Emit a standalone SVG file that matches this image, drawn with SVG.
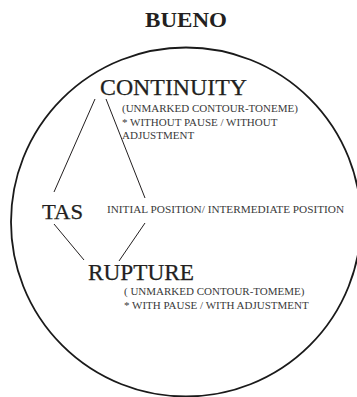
<svg xmlns="http://www.w3.org/2000/svg" width="357" height="397" viewBox="0 0 357 397">
  <style>
    text { font-family: "Liberation Serif", "DejaVu Serif", "Times New Roman", serif; }
    .title { font-weight: bold; font-size: 21px; fill: #231f20; }
    .big { fill: #231f20; stroke: #231f20; stroke-width: 0.25; }
    .small { font-size: 11px; fill: #3a3a3a; }
    .edge { stroke: #231f20; stroke-width: 1; fill: none; }
    .frame { stroke: #1a1a1a; stroke-width: 1.8; fill: none; }
  </style>

  <rect width="357" height="397" fill="#ffffff"/>

  <!-- heading -->
  <g id="title">
    <text class="title" x="145" y="27" textLength="82" lengthAdjust="spacingAndGlyphs">BUENO</text>
  </g>

  <!-- enclosing circle -->
  <g id="frame">
    <ellipse class="frame" cx="186" cy="222" rx="175" ry="174.5"/>
  </g>

  <!-- connectors between TAS, CONTINUITY and RUPTURE -->
  <g id="connectors">
    <line class="edge" x1="95" y1="99" x2="54" y2="192"/>
    <line class="edge" x1="106" y1="99" x2="145" y2="198"/>
    <line class="edge" x1="54" y1="224" x2="84" y2="260"/>
    <line class="edge" x1="145" y1="223" x2="119" y2="261"/>
  </g>

  <g id="continuity">
    <text class="big" x="100" y="95" font-size="23.5" textLength="147" lengthAdjust="spacingAndGlyphs">CONTINUITY</text>
    <text class="small" x="122" y="112">(UNMARKED CONTOUR-TONEME)</text>
    <text class="small" x="122" y="125.5">* WITHOUT PAUSE / WITHOUT</text>
    <text class="small" x="122" y="138.5">ADJUSTMENT</text>
  </g>

  <g id="tas">
    <text class="big" x="42" y="219" font-size="21.5" textLength="41" lengthAdjust="spacingAndGlyphs">TAS</text>
  </g>

  <g id="position">
    <text class="small" x="107" y="213" textLength="237" lengthAdjust="spacingAndGlyphs">INITIAL POSITION/ INTERMEDIATE POSITION</text>
  </g>

  <g id="rupture">
    <text class="big" x="88" y="279.5" font-size="22.5" textLength="106" lengthAdjust="spacingAndGlyphs">RUPTURE</text>
    <text class="small" x="124" y="294.5">( UNMARKED CONTOUR-TOMEME)</text>
    <text class="small" x="124" y="309">* WITH PAUSE / WITH ADJUSTMENT</text>
  </g>
</svg>
